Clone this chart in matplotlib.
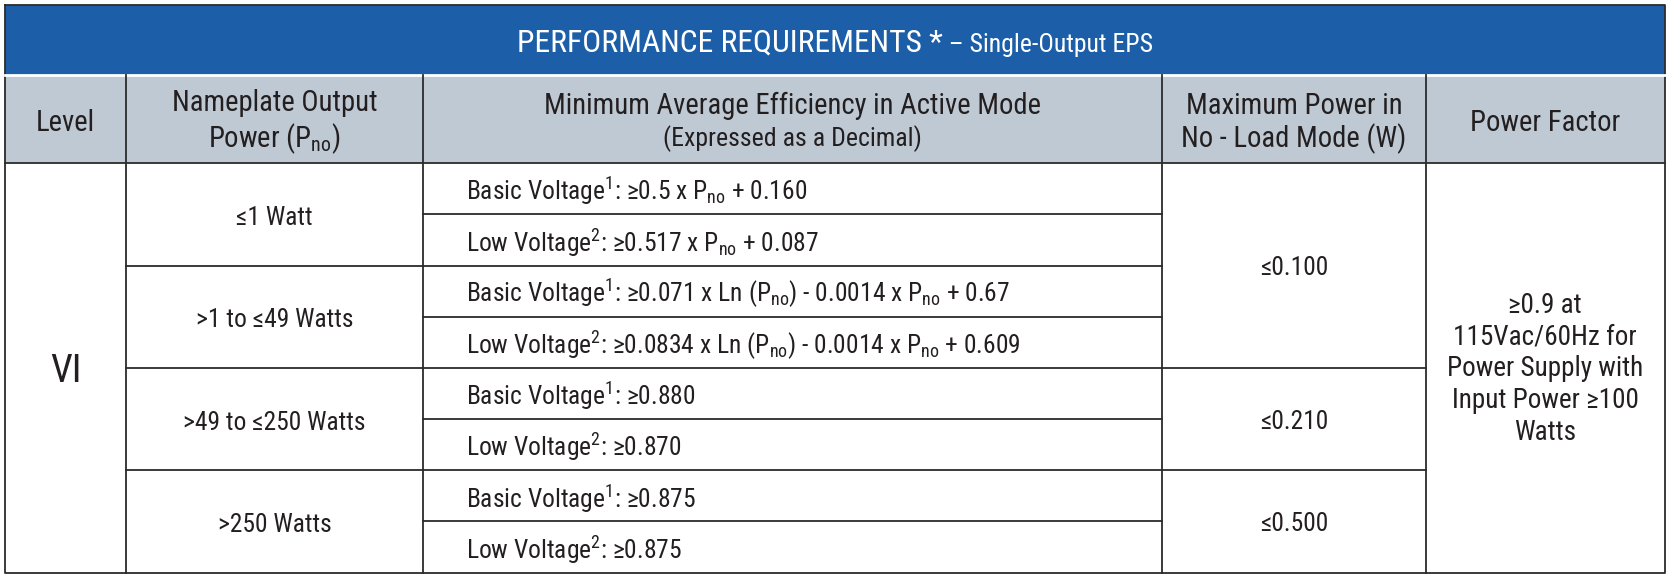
import matplotlib.pyplot as plt
from matplotlib.patches import Rectangle

plt.rcParams['font.family'] = ['Roboto Condensed', 'Liberation Sans Narrow', 'DejaVu Sans']
plt.rcParams['mathtext.fontset'] = 'custom'
plt.rcParams['mathtext.rm'] = 'Roboto Condensed'

# table content
title_main = "PERFORMANCE REQUIREMENTS *"
title_sub = " – Single-Output EPS"
headers = ["Level", "Nameplate Output\nPower ($\\mathregular{P_{no}}$)",
           "Minimum Average Efficiency in Active Mode",
           "Maximum Power in\nNo - Load Mode (W)", "Power Factor"]
header_note = "(Expressed as a Decimal)"
level = "VI"
nameplate = ["≤1 Watt", ">1 to ≤49 Watts", ">49 to ≤250 Watts", ">250 Watts"]
pno = "P$\\mathregular{_{no}}$"
sup1 = "$\\mathregular{^1}$"
sup2 = "$\\mathregular{^2}$"
efficiency = [
    f"Basic Voltage{sup1}: ≥0.5 x {pno} + 0.160",
    f"Low Voltage{sup2}: ≥0.517 x {pno} + 0.087",
    f"Basic Voltage{sup1}: ≥0.071 x Ln ({pno}) - 0.0014 x {pno} + 0.67",
    f"Low Voltage{sup2}: ≥0.0834 x Ln ({pno}) - 0.0014 x {pno} + 0.609",
    f"Basic Voltage{sup1}: ≥0.880",
    f"Low Voltage{sup2}: ≥0.870",
    f"Basic Voltage{sup1}: ≥0.875",
    f"Low Voltage{sup2}: ≥0.875",
]
noload = ["≤0.100", "≤0.210", "≤0.500"]
noload_rows = [4, 2, 2]
power_factor = "≥0.9 at\n115Vac/60Hz for\nPower Supply with\nInput Power ≥100\nWatts"

blue = "#1c5fa8"
grey = "#bfc9d3"
ink = "#231f20"
line = "#2b2b2b"

W, H = 1568, 542
fig = plt.figure(figsize=(16.72, 5.78), dpi=100)
ax = fig.add_axes([0, 0, 1, 1])
ax.set_xlim(0, W)
ax.set_ylim(H, 0)
ax.axis("off")

left, right, top, bottom = 5, 1561, 5, 537
band_bot, head_bot = 70, 153
cols = [left, 118, 397, 1090, 1337, right]
row_h = (bottom - head_bot) / len(efficiency)
dy = 2.5  # small nudge so text sits like the original

ax.add_patch(Rectangle((left, top), right - left, band_bot - top, color=blue, lw=0))
ax.add_patch(Rectangle((left, band_bot), right - left, head_bot - band_bot, color=grey, lw=0))

lw = 1.3
# outer border
ax.plot([left, right, right, left, left], [top, top, bottom, bottom, top], color=line, lw=lw)
ax.plot([left, right], [band_bot, band_bot], color="white", lw=2)
ax.plot([left, right], [head_bot, head_bot], color=line, lw=lw)
for x in cols[1:-1]:
    ax.plot([x, x], [band_bot, bottom], color=line, lw=lw)

# title
t1 = ax.text(0, 40, title_main, color="white", fontsize=22.8, va="center")
t2 = ax.text(0, 42, title_sub, color="white", fontsize=18.5, va="center")
r = fig.canvas.get_renderer()
w1 = t1.get_window_extent(r).width * W / fig.bbox.width
w2 = t2.get_window_extent(r).width * W / fig.bbox.width
x0 = (left + right) / 2 - (w1 + w2) / 2
t1.set_x(x0)
t2.set_x(x0 + w1)

# header row
hfs = 20.6
for i, h in enumerate(headers):
    cx = (cols[i] + cols[i + 1]) / 2
    if i == 2:
        ax.text(cx, 99, h, ha="center", va="center", fontsize=hfs, color=ink)
        ax.text(cx, 130, header_note, ha="center", va="center", fontsize=18.6, color=ink)
    else:
        ax.text(cx, (band_bot + head_bot) / 2 + 3.5, h, ha="center", va="center",
                fontsize=hfs, color=ink, linespacing=1.15)

bfs = 18.4
# efficiency column
for k, e in enumerate(efficiency):
    y0 = head_bot + k * row_h
    if k > 0:
        ax.plot([cols[2], cols[3]], [y0, y0], color=line, lw=lw)
    ax.text(437, y0 + row_h / 2 + dy, e, ha="left", va="center", fontsize=bfs, color=ink)

# nameplate column
for k, n in enumerate(nameplate):
    y0 = head_bot + k * 2 * row_h
    if k > 0:
        ax.plot([cols[1], cols[2]], [y0, y0], color=line, lw=lw)
    ax.text((cols[1] + cols[2]) / 2, y0 + row_h + dy + 1, n, ha="center", va="center",
            fontsize=bfs, color=ink)

# no-load column
y0 = head_bot
for k, (v, nr) in enumerate(zip(noload, noload_rows)):
    if k > 0:
        ax.plot([cols[3], cols[4]], [y0, y0], color=line, lw=lw)
    ax.text((cols[3] + cols[4]) / 2, y0 + nr * row_h / 2 + dy, v, ha="center", va="center",
            fontsize=bfs, color=ink)
    y0 += nr * row_h

mid = (head_bot + bottom) / 2
ax.text((cols[0] + cols[1]) / 2, mid + 3, level, ha="center", va="center", fontsize=28, color=ink)
ax.text((cols[4] + cols[5]) / 2, mid + 1, power_factor, ha="center", va="center",
        fontsize=19.5, color=ink, linespacing=1.22)

fig.savefig("out.png", dpi=100)
